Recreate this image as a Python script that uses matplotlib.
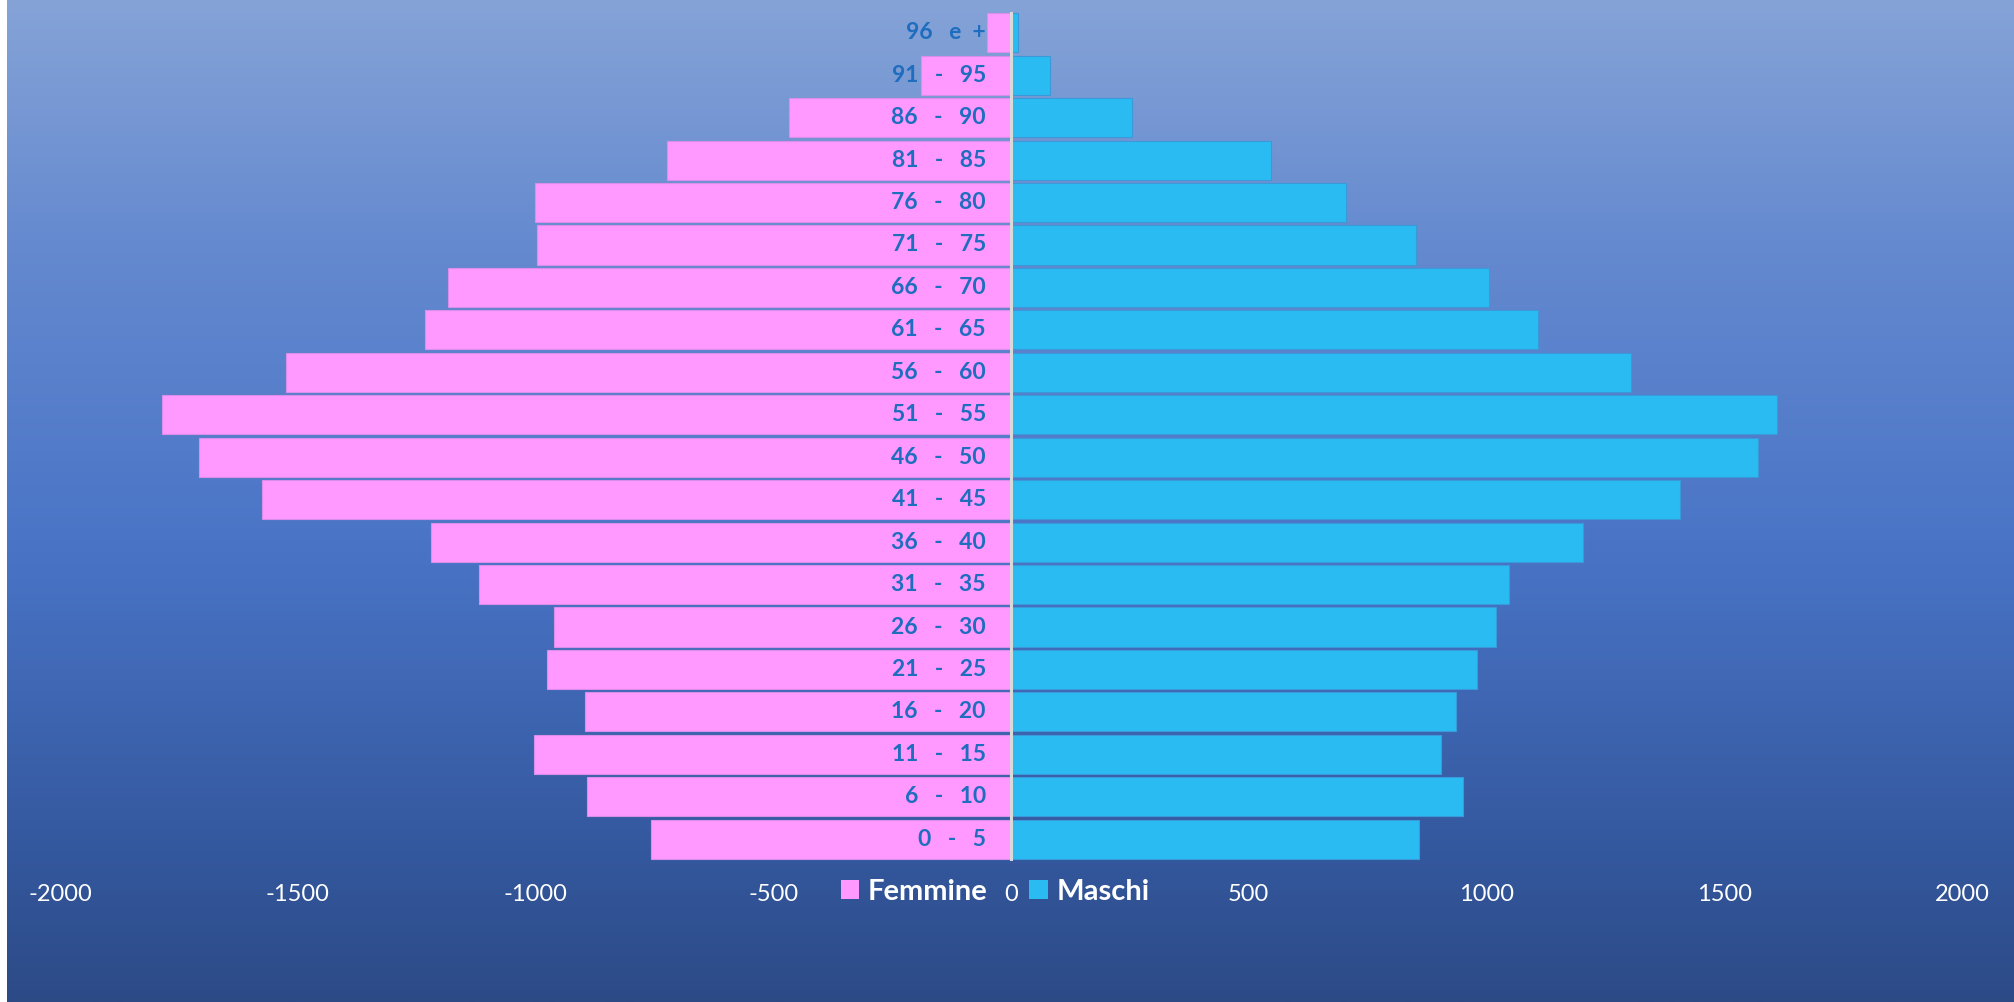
import numpy as np
import matplotlib
matplotlib.use('Agg')
import matplotlib.pyplot as plt
import matplotlib.transforms as mtransforms
from matplotlib.patches import Patch

plt.rcParams['font.family'] = ['Lato', 'DejaVu Sans']
plt.rcParams['axes.unicode_minus'] = False

# age classes, youngest first (drawn bottom to top)
classi = ['0   -   5', '6   -   10', '11   -   15', '16   -   20', '21   -   25',
          '26   -   30', '31   -   35', '36   -   40', '41   -   45', '46   -   50',
          '51   -   55', '56   -   60', '61   -   65', '66   -   70', '71   -   75',
          '76   -   80', '81   -   85', '86   -   90', '91   -   95', '96   e  +']
femmine = [757, 892, 1003, 895, 976, 962, 1119, 1219, 1576, 1707,
           1786, 1524, 1232, 1184, 997, 1002, 723, 467, 190, 50]
maschi = [857, 951, 905, 936, 981, 1019, 1047, 1203, 1406, 1570,
          1610, 1303, 1108, 1006, 852, 704, 547, 254, 81, 15]
xticks = [-2000, -1500, -1000, -500, 0, 500, 1000, 1500, 2000]

W, H = 2015, 1002
fig = plt.figure(figsize=(W / 100, H / 100), dpi=100)
fig.patch.set_facecolor('white')

# gradient background
bg = fig.add_axes([7 / W, 0, 1 - 7 / W, 1], zorder=-1)
stops = [0.0, 0.25, 0.55, 0.85, 1.0]
cols = np.array([[133, 163, 215], [100, 137, 207], [73, 116, 198],
                 [52, 88, 158], [44, 74, 134]]) / 255.0
t = np.linspace(0, 1, 400)
grad = np.stack([np.interp(t, stops, cols[:, k]) for k in range(3)], axis=1)
bg.imshow(grad[:, None, :], aspect='auto', extent=[0, 1, 1, 0])
bg.set_axis_off()

ax = fig.add_axes([60 / W, 1 - 860.5 / H, (1962 - 60) / W, (860.5 - 11.5) / H])
ax.patch.set_alpha(0)
y = np.arange(len(classi))
ax.barh(y, -np.array(femmine), height=0.92, color='#FF99FF',
        edgecolor='#D98FEA', linewidth=0.8, label='Femmine')
ax.barh(y, maschi, height=0.92, color='#2BBBF3',
        edgecolor='#3A9AD9', linewidth=0.8, label='Maschi')
ax.axvline(0, color='#D9D9D9', lw=2.2, zorder=3)

ax.set_xlim(-2000, 2000)
ax.set_ylim(-0.5, len(classi) - 0.5)
ax.set_xticks(xticks)
ax.set_xticklabels([str(v) for v in xticks])
ax.tick_params(axis='x', length=0, pad=17, labelsize=17, labelcolor='white')
ax.set_yticks([])
for s in ax.spines.values():
    s.set_visible(False)

off = mtransforms.offset_copy(ax.transData, fig=fig, x=-25, y=0, units='dots')
for i, lab in enumerate(classi):
    ax.text(0, i, lab, transform=off, ha='right', va='center',
            fontsize=16.5, fontweight='bold', color='#1F6DBF', zorder=4)

handles = [Patch(facecolor='#FF99FF', edgecolor='none', label='Femmine'),
           Patch(facecolor='#2BBBF3', edgecolor='none', label='Maschi')]
leg = fig.legend(handles=handles, loc='center', ncol=2, frameon=False,
                 bbox_to_anchor=(995 / W, 1 - 892 / H), fontsize=21,
                 handlelength=0.62, handleheight=0.62, handletextpad=0.3,
                 columnspacing=1.45, borderpad=0)
for txt in leg.get_texts():
    txt.set_color('white')
    txt.set_fontweight('bold')

fig.savefig('out.png', dpi=100)
